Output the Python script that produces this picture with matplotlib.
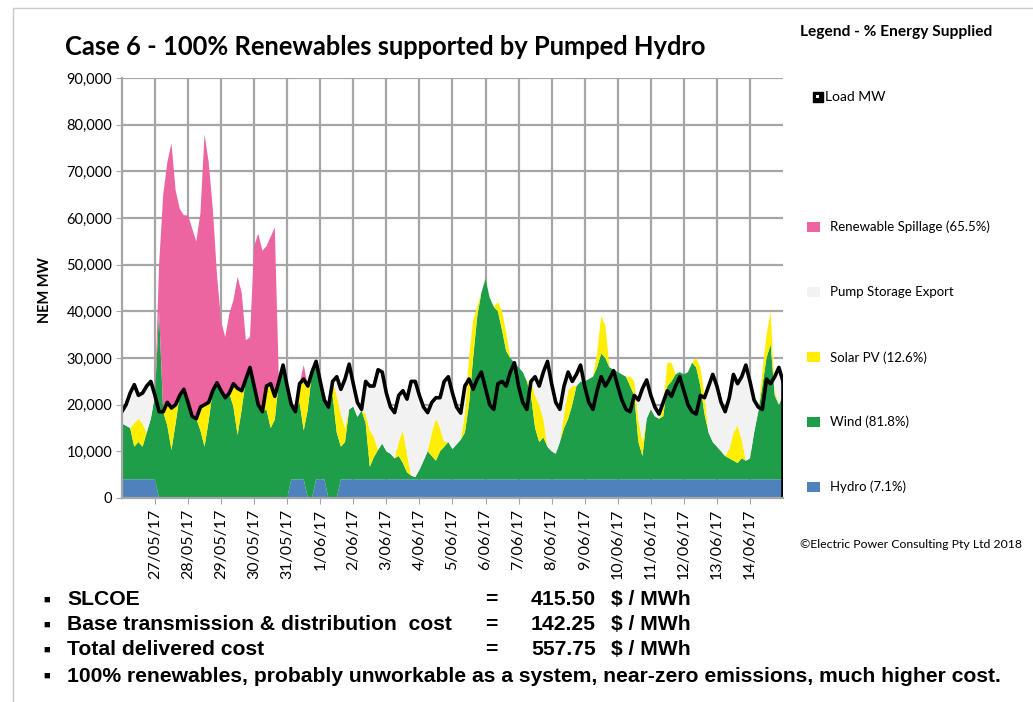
import numpy as np
import pandas as pd
import matplotlib
matplotlib.use("Agg")
import matplotlib.pyplot as plt
from matplotlib.patches import Rectangle
from matplotlib.ticker import FuncFormatter

# 3-hourly samples, 26/05/17 00:00 to 15/06/17 00:00, values in thousand MW
times = pd.date_range("2017-05-26", periods=161, freq="3h")

load = [
    18.5, 20, 22.5, 24.3, 22, 22.5, 24, 25,
    22, 18.5, 18.5, 20.5, 19.3, 20, 22, 23.3,
    20.5, 17.5, 17, 19.5, 20, 20.5, 23, 24.7,
    23, 21.5, 22.5, 24.5, 23.5, 23, 25.5, 28,
    24, 20, 18.5, 24, 24.5, 21.8, 25, 28.5,
    24, 20, 18.5, 24.5, 25.5, 24, 27, 29.3,
    25, 21, 19.5, 25, 26, 23.3, 25.5, 28.7,
    24.5, 20.5, 19, 25, 24, 24, 27.5, 27,
    22.5, 19.5, 18.3, 22, 23, 21.2, 25, 25,
    22, 19.5, 18.3, 20.5, 21.5, 21.5, 25, 26,
    22.5, 19.5, 18.2, 24, 25.5, 23.3, 25.5, 27,
    23.5, 20, 19, 24.5, 25, 24, 27, 29,
    24, 20.5, 19, 25, 26, 24, 27, 29.3,
    24.5, 20.5, 19, 24, 27, 25, 26.5, 28.5,
    24, 20.5, 19, 23, 26, 24, 25.5, 27.3,
    24, 21, 19, 18.5, 22, 21, 23.5, 25.3,
    22, 19.5, 18, 20.5, 23, 21.8, 24, 26,
    23, 20, 18.5, 18, 22, 21.5, 24, 26.5,
    24, 20.5, 18.5, 21.5, 26.5, 24.5, 26, 28.5,
    25, 21, 19.5, 19, 25.5, 24.5, 26, 28,
    25]

hydro = [
    4, 4, 4, 4, 4, 4, 4, 4,
    4, 0, 0, 0, 0, 0, 0, 0,
    0, 0, 0, 0, 0, 0, 0, 0,
    0, 0, 0, 0, 0, 0, 0, 0,
    0, 0, 0, 0, 0, 0, 0, 0,
    0, 4, 4, 4, 4, 0, 0, 4,
    4, 4, 0, 0, 0, 4, 4, 4,
    4, 4, 4, 4, 4, 4, 4, 4,
    4, 4, 4, 4, 4, 4, 4, 4,
    4, 4, 4, 4, 4, 4, 4, 4,
    4, 4, 4, 4, 4, 4, 4, 4,
    4, 4, 4, 4, 4, 4, 4, 4,
    4, 4, 4, 4, 4, 4, 4, 4,
    4, 4, 4, 4, 4, 4, 4, 4,
    4, 4, 4, 4, 4, 4, 4, 4,
    4, 4, 4, 4, 4, 4, 4, 4,
    4, 4, 4, 4, 4, 4, 4, 4,
    4, 4, 4, 4, 4, 4, 4, 4,
    4, 4, 4, 4, 4, 4, 4, 4,
    4, 4, 4, 4, 4, 4, 4, 4,
    4]

wind = [
    12, 11.5, 11, 7, 8, 7, 10, 13,
    18, 40, 18.5, 15.5, 10.3, 16, 22, 23.3,
    20.5, 17.5, 17, 14.5, 11, 16.5, 23, 24.7,
    23, 21.5, 22.5, 19.5, 13.5, 19, 25.5, 28,
    24, 20, 18.5, 19, 15, 16.8, 25, 28.5,
    24, 16, 14.5, 16.5, 10.5, 19, 27, 25.3,
    21, 17, 19.5, 22, 14, 7, 8, 15,
    15.6, 13.4, 14.8, 12, 2.7, 4.8, 6.3, 7.7,
    6, 5.5, 4.5, 5, 3.5, 1.5, 0.8, 0.5,
    2, 4, 6, 5, 4, 6, 7, 8,
    6.5, 7.5, 8.5, 10, 16, 26, 35, 40,
    43, 39, 37, 36, 32, 27.5, 26, 25,
    24, 23, 21, 18, 11, 8, 9, 7,
    6, 5.5, 8, 11, 13, 16, 20, 21,
    21, 21.5, 22, 24, 27, 26, 24, 23.5,
    23, 22.5, 22, 20, 18, 8, 5, 13,
    15, 13.5, 13, 13.5, 20, 21, 22.5, 23,
    22.5, 23, 25, 24, 20, 14, 10, 8,
    7, 6, 5, 4.5, 4, 3.5, 4.5, 4,
    4.5, 10, 14.5, 20, 26, 29, 18, 16,
    18]

solar = [
    0, 0, 0, 5, 5, 5, 0, 0,
    0, 0, 0, 5, 9, 4, 0, 0,
    0, 0, 0, 5, 9, 4, 0, 0,
    0, 0, 0, 5, 10, 4, 0, 0,
    0, 0, 0, 5, 9.5, 5, 0, 0,
    0, 0, 0, 4, 11, 5, 0, 0,
    0, 0, 0, 3, 8, 7, 3, 0,
    0, 0, 0, 2, 7.8, 4.3, 0, 0,
    0, 0, 0, 3, 7, 4, 0, 0,
    0, 0, 0, 5, 9, 5, 1, 0,
    0, 0, 0, 4, 10, 8, 2, 0,
    0, 0, 0, 2, 4, 4, 0, 0,
    0, 0, 0, 3, 7, 8, 4, 0,
    0, 0, 0, 3, 6, 4, 0, 0,
    0, 0, 0, 3, 8, 7, 0, 0,
    0, 0, 0, 2, 3, 5, 3, 0,
    0, 0, 0, 2, 5, 4, 0, 0,
    0, 0, 0, 2, 4, 4, 0, 0,
    0, 0, 0, 2, 6, 8, 4, 0,
    0, 0, 0, 3, 5, 7, 1, 0,
    0]

pump = [
    2.5, 4.5, 7.5, 8.3, 5, 6.5, 10, 8,
    0, 0, 0, 0, 0, 0, 0, 0,
    0, 0, 0, 0, 0, 0, 0, 0,
    0, 0, 0, 0, 0, 0, 0, 0,
    0, 0, 0, 0, 0, 0, 0, 0,
    0, 0, 0, 0, 0, 0, 0, 0,
    0, 0, 0, 0, 4, 5.3, 10.5, 9.7,
    4.9, 3.1, 0.2, 7, 9.5, 10.9, 17.2, 15.3,
    12.5, 10, 9.8, 10, 8.5, 11.7, 20.2, 20.5,
    16, 11.5, 8.3, 6.5, 4.5, 6.5, 13, 14,
    12, 8, 5.7, 6, 0, 0, 0, 0,
    0, 0, 0, 0, 0, 0, 0, 0,
    0, 0, 0, 0, 4, 4, 10, 18.3,
    14.5, 11, 7, 6, 4, 1, 2.5, 3.5,
    0, 0, 0, 0, 0, 0, 0, 0,
    0, 0, 0, 0, 0, 4, 11.5, 8.3,
    3, 2, 1, 1, 0, 0, 0, 0,
    0, 0, 0, 0, 0, 0, 10, 14.5,
    13, 10.5, 9.5, 11, 12.5, 9, 13.5, 20.5,
    16.5, 7, 1, 0, 0, 0, 3, 8,
    3]

spill = [
    0, 0, 0, 0, 0, 0, 0, 0,
    0, 10, 46.5, 51.5, 56.7, 46, 40, 37.3,
    40.1, 40.3, 38, 41.5, 58, 51.5, 39, 23.3,
    15, 13, 17, 17.9, 23.9, 21, 8.3, 6.5,
    30, 36.7, 34.5, 30, 31.5, 36.2, 0, 0,
    0, 0, 0, 0, 3, 0, 0, 0] + [0] * 113

series_names = ["Hydro (7.1%)", "Wind (81.8%)", "Solar PV (12.6%)",
                "Pump Storage Export", "Renewable Spillage (65.5%)"]
series_colors = ["#4f81bd", "#1f9e4a", "#ffee00", "#f2f2f2", "#ec64a0"]

cost_labels = ["SLCOE", "Base transmission & distribution  cost", "Total delivered cost"]
cost_values = [415.50, 142.25, 557.75]
note = "100% renewables, probably unworkable as a system, near-zero emissions, much higher cost."

tick_days = pd.date_range("2017-05-27", "2017-06-14", freq="D")
tick_labels = [f"{d.day}/{d.month:02d}/{d.strftime('%y')}" for d in tick_days]

FONT = ["Lato", "DejaVu Sans"]
ARIAL = ["Liberation Sans", "DejaVu Sans"]
plt.rcParams["font.family"] = FONT

k = 1000.0
fig = plt.figure(figsize=(10.33, 7.02), dpi=100)
ax = fig.add_axes([0.118, 0.2906, 0.640, 0.598])

ax.stackplot(times, np.array(hydro) * k, np.array(wind) * k, np.array(solar) * k,
             np.array(pump) * k, np.array(spill) * k,
             colors=series_colors, linewidth=0)
ax.plot(times, np.array(load) * k, color="black", lw=2.6, solid_joinstyle="round")
ax.vlines(times[-1], 0, load[-1] * k, color="black", lw=2.6)

ax.set_xlim(times[0], times[-1])
ax.set_ylim(0, 90000)
ax.set_yticks(np.arange(0, 90001, 10000))
ax.yaxis.set_major_formatter(FuncFormatter(lambda v, p: f"{v:,.0f}"))
ax.set_xticks(tick_days)
ax.set_xticklabels(tick_labels, rotation=90, fontsize=11.5)
ax.tick_params(axis="y", labelsize=10.5, length=4, color="#a6a6a6", pad=3)
ax.tick_params(axis="x", length=4, color="#a6a6a6", pad=4)
ax.grid(True, color="#a6a6a6", lw=1.6)
ax.set_axisbelow(True)
for s in ["top", "right"]:
    ax.spines[s].set_visible(False)
for s in ["left", "bottom"]:
    ax.spines[s].set_color("#a6a6a6")
    ax.spines[s].set_linewidth(1.6)

fig.text(0.0436, 0.587, "NEM MW", rotation=90, ha="center", va="center",
         fontsize=10.5, fontweight="bold")
fig.text(0.063, 0.933, "Case 6 - 100% Renewables supported by Pumped Hydro",
         fontsize=18.4, fontweight="bold", va="center")

# legend panel on the right
fig.text(0.774, 0.954, "Legend - % Energy Supplied", fontsize=11.2,
         fontweight="bold", va="center")
fig.add_artist(Rectangle((0.787, 0.855), 0.0097, 0.0142, transform=fig.transFigure,
                         facecolor="black", edgecolor="black"))
fig.add_artist(Rectangle((0.7904, 0.8599), 0.0029, 0.0043, transform=fig.transFigure,
                         facecolor="white", edgecolor="none"))
fig.text(0.799, 0.862, "Load MW", fontsize=10, va="center")
legend_y = [0.306, 0.399, 0.491, 0.584, 0.677]
for name, col, yy in zip(series_names, series_colors, legend_y):
    fig.add_artist(Rectangle((0.781, yy - 0.0071), 0.0126, 0.0142,
                             transform=fig.transFigure, facecolor=col, edgecolor="none"))
    fig.text(0.8035, yy, name, fontsize=9.5, va="center")
fig.text(0.774, 0.224, "\u00a9Electric Power Consulting Pty Ltd 2018", fontsize=8.8,
         va="center")

# cost summary
rows_y = [0.1453, 0.1097, 0.0741, 0.0370]
fs = 15.2
for lab, val, yy in zip(cost_labels, cost_values, rows_y):
    fig.text(0.0455, yy, "\u25a0", fontsize=8, ha="center", va="center", family=ARIAL)
    fig.text(0.0649, yy, lab, fontsize=fs, fontweight="bold", va="center", family=ARIAL)
    fig.text(0.476, yy, "=", fontsize=fs, fontweight="bold", ha="center", va="center",
             family=ARIAL)
    fig.text(0.577, yy, f"{val:.2f}", fontsize=fs, fontweight="bold", ha="right",
             va="center", family=ARIAL)
    fig.text(0.5915, yy, "$ / MWh", fontsize=fs, fontweight="bold", va="center",
             family=ARIAL)
fig.text(0.0455, rows_y[3], "\u25a0", fontsize=8, ha="center", va="center", family=ARIAL)
fig.text(0.0649, rows_y[3], note, fontsize=fs, fontweight="bold", va="center", family=ARIAL)

fig.add_artist(Rectangle((0.0126, -0.05), 1.2, 1.0386, transform=fig.transFigure,
                         fill=False, edgecolor="#c8c8c8", lw=1))

fig.savefig("out.png", dpi=100)
